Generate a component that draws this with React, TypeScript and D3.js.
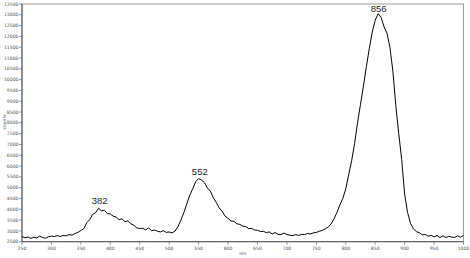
import React from "react";
import * as d3 from "d3";

const wavelengths: number[] = [
  250,255,260,265,270,275,280,285,290,295,300,305,310,315,320,325,330,335,340,345,
  350,355,360,365,370,375,380,385,390,395,400,405,410,415,420,425,430,435,440,445,
  450,455,460,465,470,475,480,485,490,495,500,505,510,515,520,525,530,535,540,545,
  550,555,560,565,570,575,580,585,590,595,600,605,610,615,620,625,630,635,640,645,
  650,655,660,665,670,675,680,685,690,695,700,705,710,715,720,725,730,735,740,745,
  750,755,760,765,770,775,780,785,790,795,800,805,810,815,820,825,830,835,840,845,
  850,855,860,865,870,875,880,885,890,895,900,905,910,915,920,925,930,935,940,945,
  950,955,960,965,970,975,980,985,990,995,1000,
];

const counts: number[] = [
  2740,2680,2720,2650,2710,2670,2760,2690,2660,2730,2760,2740,2780,2740,2790,2770,2830,2800,2880,2930,
  3020,3100,3380,3520,3760,3840,4050,3930,3960,3800,3790,3680,3640,3520,3560,3420,3470,3330,3260,3140,
  3110,3120,3050,3140,3010,3040,2990,2950,3010,2930,2950,2910,2990,3200,3500,3850,4250,4650,4950,5280,
  5420,5350,5230,4980,4840,4530,4320,4060,3900,3680,3580,3460,3440,3330,3300,3220,3200,3110,3120,3040,
  3030,2970,2980,2920,2950,2860,2920,2840,2830,2900,2830,2800,2780,2830,2790,2840,2830,2880,2860,2910,
  2930,2980,3020,3090,3170,3320,3550,3850,4200,4500,4950,5600,6250,7050,8000,8850,9700,10600,11450,12200,
  12750,13050,12880,12450,12150,11500,10400,8800,7500,6300,4700,3850,3350,3100,2960,2920,2820,2830,2760,2790,
  2720,2790,2690,2770,2690,2750,2710,2700,2770,2710,2790,
];

const peakLabels: { nm: number; value: number; text: string; gap: number }[] = [
  { nm: 382, value: 4050, text: "382", gap: 4 },
  { nm: 552, value: 5420, text: "552", gap: 3.5 },
  { nm: 856, value: 13050, text: "856", gap: 1.5 },
];

const xTicks: number[] = d3.range(250, 1001, 50);
const yTicks: number[] = d3.range(2500, 13501, 500);

export default function App() {
  const W = 470, H = 258;
  const left = 22, right = 463.5, top = 4, bottom = 241.7;
  const x = d3.scaleLinear().domain([250, 1000]).range([left, right]);
  const y = d3.scaleLinear().domain([2500, 13500]).range([bottom, top]);
  const data = wavelengths.map((w, i) => [w, counts[i]] as [number, number]);
  const line = d3.line<[number, number]>().x(d => x(d[0])).y(d => y(d[1]));
  const tickFont = "DejaVu Sans, sans-serif";
  return (
    <svg width={W} height={H} style={{ position: "absolute", left: 0, top: 0, background: "#fff" }}>
      <rect x={left} y={top} width={right - left} height={bottom - top} fill="none" stroke="#9a9a9a" strokeWidth={1} />
      <line x1={left} x2={left} y1={top} y2={bottom} stroke="#555" strokeWidth={1} />
      <line x1={left} x2={right} y1={bottom} y2={bottom} stroke="#555" strokeWidth={1} />
      {yTicks.map(t => (
        <g key={"y" + t}>
          <line x1={left - 3} x2={left} y1={y(t)} y2={y(t)} stroke="#777" strokeWidth={0.8} />
          <text x={left - 3.5} y={y(t)} dy="0.35em" textAnchor="end" fontSize={4.6} fontFamily={tickFont} fill="#555">{t}</text>
        </g>
      ))}
      {xTicks.map(t => (
        <g key={"x" + t}>
          <line x1={x(t)} x2={x(t)} y1={bottom} y2={bottom + 3} stroke="#777" strokeWidth={0.8} />
          <text x={x(t)} y={bottom + 8.5} textAnchor="middle" fontSize={4.6} fontFamily={tickFont} fill="#555">{t}</text>
        </g>
      ))}
      <text x={(left + right) / 2} y={255} textAnchor="middle" fontSize={4.5} fontFamily={tickFont} fill="#555">nm</text>
      <text transform={`translate(6,122) rotate(-90)`} textAnchor="middle" fontSize={4.5} fontFamily={tickFont} fill="#555">counts</text>
      <path d={line(data) || ""} fill="none" stroke="#000" strokeWidth={1} strokeLinejoin="round" />
      {peakLabels.map(p => (
        <text key={p.text} x={x(p.nm)} y={y(p.value) - p.gap} textAnchor="middle" fontSize={9.5} fontFamily="Liberation Sans, sans-serif" fill="#222">{p.text}</text>
      ))}
    </svg>
  );
}
